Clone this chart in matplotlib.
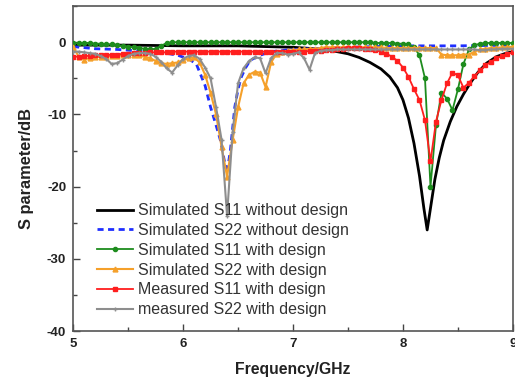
import numpy as np
import matplotlib
matplotlib.use("Agg")
import matplotlib.pyplot as plt
from matplotlib.ticker import MultipleLocator

plt.rcParams['font.family'] = ['Liberation Sans', 'DejaVu Sans']
plt.rcParams['axes.unicode_minus'] = False

# ---- data -------------------------------------------------------------
freq = np.round(np.linspace(5.0, 9.0, 81), 2)  # measurement sweep (0.05 GHz)

black_f = [5.0, 5.5, 6.0, 6.5, 7.0, 7.3, 7.5, 7.6, 7.7, 7.8, 7.88, 7.95, 8.0,
           8.05, 8.1, 8.15, 8.19, 8.22, 8.25, 8.29, 8.33, 8.37, 8.43, 8.49,
           8.55, 8.61, 8.68, 8.76, 8.85, 8.94, 9.0]
black_v = [-0.4, -0.4, -0.5, -0.5, -0.7, -1.0, -1.6, -2.1, -2.8, -3.7, -4.8,
           -6.3, -8.0, -10.5, -14.0, -18.5, -23.0, -26.0, -23.0, -19.0, -16.0,
           -13.6, -11.0, -8.9, -7.2, -5.7, -4.2, -2.9, -2.0, -1.5, -1.3]

blue_f = [5.0, 5.2, 5.4, 5.6, 5.8, 5.95, 6.05, 6.12, 6.2, 6.25, 6.3, 6.34,
          6.37, 6.39, 6.41, 6.43, 6.45, 6.47, 6.5, 6.53, 6.57, 6.61, 6.7, 6.8,
          7.0, 7.5, 8.0, 8.5, 9.0]
blue_v = [-0.6, -0.9, -1.0, -1.2, -1.4, -1.8, -2.3, -3.0, -6.0, -9.0, -11.5,
          -13.6, -16.0, -17.5, -17.0, -15.0, -12.0, -9.0, -6.5, -4.8, -3.5,
          -2.5, -1.8, -1.3, -1.0, -0.7, -0.5, -0.5, -0.4]

green_v = [-0.1, -0.1, -0.1, -0.1, -0.2, -0.2, -0.3, -0.3, -0.4, -0.5,
           -0.6, -0.7, -0.8, -0.9, -1.0, -0.9, -0.5, -0.1, 0.0, 0.0,
           0.0, 0.0, 0.0, 0.0, 0.0, 0.0, 0.0, 0.0, 0.0, 0.0,
           0.0, 0.0, 0.0, 0.0, 0.0, 0.0, 0.0, 0.0, 0.0, 0.0,
           0.0, 0.0, 0.0, 0.0, 0.0, 0.0, 0.0, 0.0, 0.0, 0.0,
           0.0, 0.0, 0.0, 0.0, 0.0, -0.1, -0.1, -0.1, -0.1, -0.2,
           -0.2, -0.3, -0.7, -1.8, -5.0, -20.0, -11.5, -7.0, -7.8, -9.4,
           -6.5, -3.0, -1.0, -0.4, -0.2, -0.1, -0.1, -0.1, -0.1, -0.1,
           -0.1]

orange_v = [-0.6, -2.0, -2.4, -2.2, -2.1, -2.0, -2.0, -1.9, -1.9, -1.8,
            -1.8, -1.7, -1.8, -2.0, -2.2, -2.6, -2.9, -3.0, -2.9, -2.8,
            -2.5, -2.2, -2.1, -2.8, -4.5, -7.0, -10.0, -14.5, -18.6, -13.6,
            -9.0, -5.7, -4.5, -4.1, -4.2, -6.2, -2.8, -1.6, -1.3, -1.2,
            -1.1, -1.0, -1.0, -0.9, -0.9, -0.8, -0.7, -0.7, -0.7, -0.7,
            -0.7, -0.7, -0.7, -0.7, -0.7, -0.7, -0.7, -0.8, -0.8, -0.8,
            -0.8, -0.8, -0.8, -0.8, -0.8, -0.8, -0.8, -1.7, -1.8, -1.8,
            -1.8, -1.7, -1.7, -1.3, -1.0, -0.9, -0.8, -0.8, -0.7, -0.7,
            -0.6]

red_v = [-2.0, -2.0, -1.9, -1.9, -1.8, -1.8, -1.8, -1.7, -1.7, -1.6,
         -1.6, -1.5, -1.5, -1.5, -1.4, -1.4, -1.4, -1.4, -1.3, -1.3,
         -1.3, -1.3, -1.3, -1.3, -1.3, -1.3, -1.3, -1.3, -1.3, -1.3,
         -1.3, -1.3, -1.3, -1.3, -1.3, -1.3, -1.3, -1.3, -1.3, -1.3,
         -1.3, -1.3, -1.3, -1.2, -1.2, -1.2, -1.1, -1.1, -1.0, -0.9,
         -0.8, -0.8, -0.8, -0.9, -1.0, -1.1, -1.3, -1.6, -2.0, -2.6,
         -3.5, -4.8, -6.5, -8.0, -10.8, -16.5, -11.0, -8.0, -5.7, -4.2,
         -4.6, -6.3, -5.6, -4.7, -3.9, -3.2, -2.7, -2.2, -1.9, -1.6,
         -1.4]

gray_v = [-1.3, -1.3, -1.4, -1.5, -1.6, -1.9, -2.3, -3.0, -2.9, -2.4,
          -1.9, -1.6, -1.5, -1.5, -1.6, -2.0, -2.7, -3.6, -4.2, -3.2,
          -2.3, -1.9, -1.8, -2.3, -3.5, -5.0, -9.0, -13.5, -24.0, -12.5,
          -5.7, -3.6, -2.6, -2.1, -2.2, -4.3, -2.2, -1.5, -1.5, -1.7,
          -1.6, -1.4, -2.2, -3.8, -1.5, -1.2, -1.1, -1.1, -1.0, -1.0,
          -1.0, -1.0, -1.0, -1.0, -1.0, -1.0, -1.0, -1.0, -1.0, -1.0,
          -1.0, -1.0, -1.0, -1.0, -1.0, -1.0, -1.0, -1.0, -1.0, -1.0,
          -1.0, -1.0, -1.0, -1.0, -1.1, -1.1, -1.0, -1.0, -0.9, -0.9,
          -0.9]

labels = ["Simulated S11 without design", "Simulated S22 without design",
          "Simulated S11 with design", "Simulated S22 with design",
          "Measured S11 with design", "measured S22 with design"]

xticks = [5, 6, 7, 8, 9]
yticks = [0, -10, -20, -30, -40]

# ---- figure -------------------------------------------------------------
fig = plt.figure(figsize=(5.15, 3.84), dpi=100)
ax = fig.add_axes([0.142, 0.138, 0.854, 0.846])

ax.plot(black_f, black_v, color='black', lw=2.0, label=labels[0], zorder=3)
ax.plot(blue_f, blue_v, color='#1f2fff', lw=2.0, ls=(0, (2.2, 1.6)),
        label=labels[1], zorder=3)
ax.plot(freq, green_v, color='#1e8c1e', lw=1.3, marker='o', ms=3.0,
        label=labels[2], zorder=4)
ax.plot(freq, orange_v, color='#f5a02a', lw=1.5, marker='^', ms=3.5,
        label=labels[3], zorder=4)
ax.plot(freq, red_v, color='#ff1e1e', lw=1.3, marker='s', ms=2.8,
        label=labels[4], zorder=5)
ax.plot(freq, gray_v, color='#8e8e8e', lw=1.5, marker='+', ms=3.0,
        label=labels[5], zorder=5)

ax.set_xlim(5, 9)
ax.set_ylim(-40, 5)
ax.set_xticks(xticks)
ax.set_yticks(yticks)
ax.xaxis.set_minor_locator(MultipleLocator(0.5))
ax.yaxis.set_minor_locator(MultipleLocator(5))
ax.tick_params(which='both', direction='in', top=False, right=False,
               color='#444444')
ax.tick_params(which='major', length=5, width=1.0, labelsize=9.5, pad=5)
ax.tick_params(which='minor', length=3, width=1.0)
for lab in ax.get_xticklabels() + ax.get_yticklabels():
    lab.set_fontweight('bold')
    lab.set_color('#222222')
for sp in ax.spines.values():
    sp.set_color('#555555')
    sp.set_linewidth(1.2)

ax.set_xlabel('Frequency/GHz', fontsize=11.3, fontweight='bold', labelpad=9,
              color='#222222')
ax.set_ylabel('S parameter/dB', fontsize=11.8, fontweight='bold', labelpad=9,
              color='#222222')

leg = ax.legend(loc='upper left', bbox_to_anchor=(0.04, 0.413), frameon=False,
                fontsize=11.5, handlelength=2.25, handletextpad=0.3,
                labelspacing=0.3, borderaxespad=0.0)
for t in leg.get_texts():
    t.set_color('#333333')

fig.savefig('out.png', dpi=100)
